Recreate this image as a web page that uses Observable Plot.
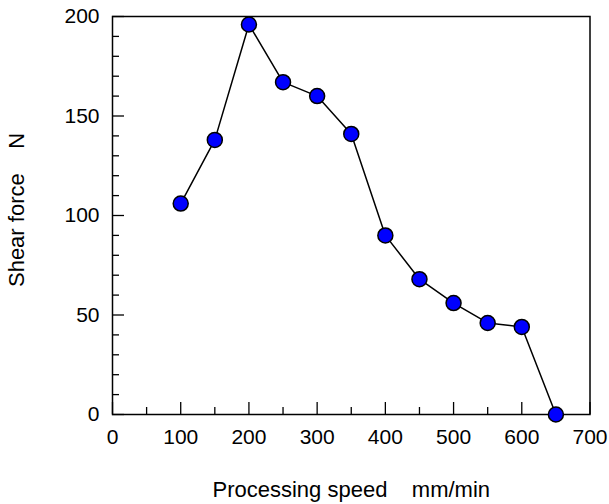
<!DOCTYPE html>
<html>
<head>
<meta charset="utf-8">
<script src="https://cdn.jsdelivr.net/npm/d3@7"></script>
<script src="https://cdn.jsdelivr.net/npm/@observablehq/plot@0.6"></script>
<style>
  html, body { margin: 0; padding: 0; background: #fff; }
  #chart svg { display: block; }
</style>
</head>
<body>
<div id="chart"></div>
<script>
const speeds = [100, 150, 200, 250, 300, 350, 400, 450, 500, 550, 600, 650];
const shearForce = [106, 138, 196, 167, 160, 141, 90, 68, 56, 46, 44, 0];
const xMajorTicks = [0, 100, 200, 300, 400, 500, 600, 700];
const xMinorTicks = [50, 150, 250, 350, 450, 550, 650];
const yMajorTicks = [0, 50, 100, 150, 200];
const yMinorTicks = [10, 20, 30, 40, 60, 70, 80, 90, 110, 120, 130, 140, 160, 170, 180, 190];
const xTitle = "Processing speed    mm/min";
const yTitle = "Shear force    N";

const data = speeds.map((s, i) => ({speed: s, force: shearForce[i]}));

const W = 609, H = 504;
const mL = 112, mR = 19.5, mT = 16, mB = 90;
const plotW = W - mL - mR, plotH = H - mT - mB;
const font = "'Liberation Sans', Arial, sans-serif";

const chart = Plot.plot({
  width: W,
  height: H,
  marginLeft: mL,
  marginRight: mR,
  marginTop: mT,
  marginBottom: mB,
  style: {fontFamily: font, fontSize: "21px", background: "#fff", color: "#000"},
  x: {domain: [0, 700]},
  y: {domain: [0, 200]},
  marks: [
    Plot.axisX(xMajorTicks, {tickSize: 0, tickPadding: 15, fontSize: 21, label: null}),
    Plot.axisY(yMajorTicks, {tickSize: 0, tickPadding: 13, fontSize: 21, label: null}),
    Plot.tickX(xMajorTicks, {x: d => d, insetTop: plotH - 12, stroke: "#000", strokeWidth: 1.3}),
    Plot.tickX(xMinorTicks, {x: d => d, insetTop: plotH - 7, stroke: "#000", strokeWidth: 1.3}),
    Plot.tickY(yMajorTicks, {y: d => d, insetRight: plotW - 12, stroke: "#000", strokeWidth: 1.3}),
    Plot.tickY(yMinorTicks, {y: d => d, insetRight: plotW - 7, stroke: "#000", strokeWidth: 1.3}),
    Plot.frame({stroke: "#000", strokeWidth: 1.5}),
    Plot.line(data, {x: "speed", y: "force", stroke: "#000", strokeWidth: 1.5}),
    Plot.dot(data, {x: "speed", y: "force", r: 7.5, fill: "#0000ff", stroke: "#000", strokeWidth: 1.5}),
    Plot.text([xTitle], {frameAnchor: "bottom", dy: 67, text: d => d, fontSize: 22, lineAnchor: "top", textAnchor: "middle", fill: "#000"}),
    Plot.text([yTitle], {frameAnchor: "left", dx: -96, dy: -5.5, rotate: -90, text: d => d, fontSize: 22, lineAnchor: "middle", textAnchor: "middle", fill: "#000"})
  ]
});
document.getElementById("chart").appendChild(chart);
chart.querySelectorAll("text").forEach(t => t.setAttribute("xml:space", "preserve"));
chart.querySelectorAll("text").forEach(t => t.style.whiteSpace = "pre");
</script>
</body>
</html>
